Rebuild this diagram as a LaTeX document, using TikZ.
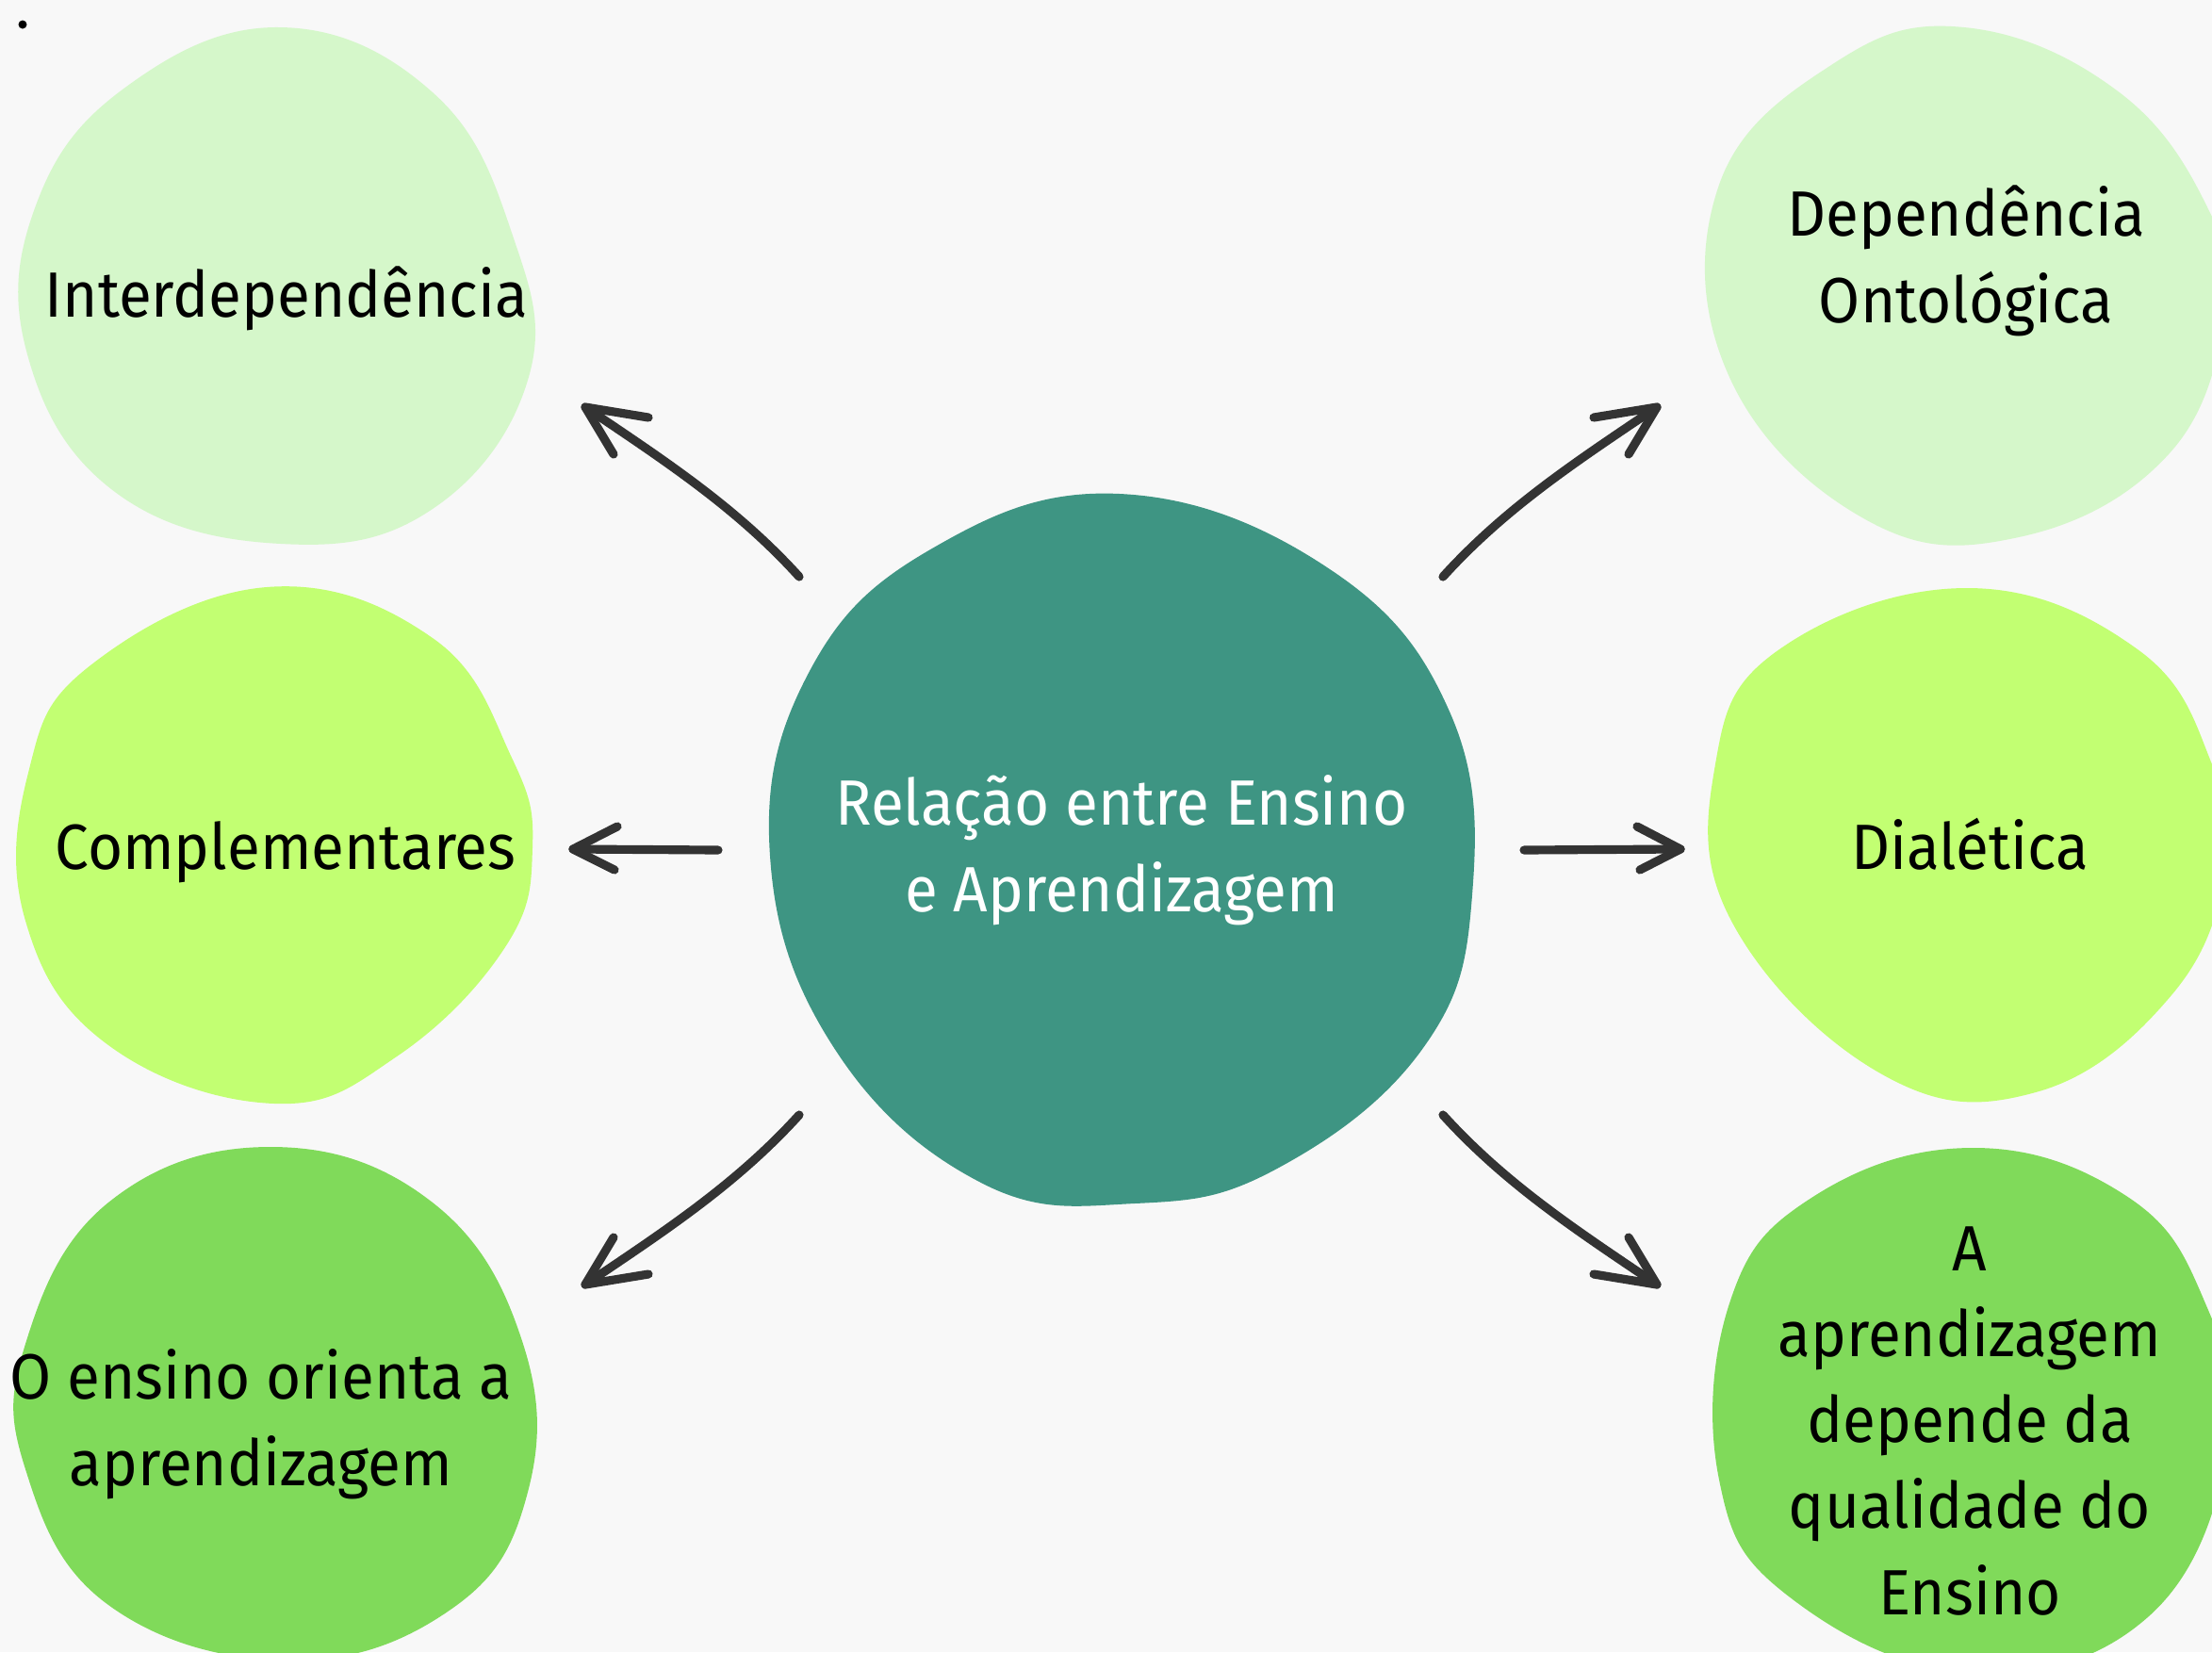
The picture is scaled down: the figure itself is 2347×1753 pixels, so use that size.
\documentclass[tikz,border=0pt]{standalone}
\usepackage{fontspec}
\setmainfont{Fira Sans}[FakeStretch=0.94]
\definecolor{bgc}{HTML}{F8F8F8}
\definecolor{lightg}{HTML}{D5F7CA}
\definecolor{limeg}{HTML}{C2FF72}
\definecolor{midg}{HTML}{80DA5A}
\definecolor{teal}{HTML}{3E9583}
\definecolor{ink}{HTML}{333333}
\begin{document}
\begin{tikzpicture}[x=0.01cm, y=-0.01cm,
  lbl/.style={font=\fontsize{19.3}{25.9}\selectfont, align=center, anchor=base, inner sep=0pt, text=black},
  blob/.style={smooth cycle, tension=0.7},
  conn/.style={draw=ink, line width=2.6pt, line cap=round, line join=round}]
\fill[bgc] (0,0) rectangle (2347,1753);
\useasboundingbox (0,0) rectangle (2347,1753);
% small dot
\fill[black] (24,26) circle (4.5);
% top-left blob
\fill[lightg] plot[blob] coordinates {(298,29) (459,98) (543,247) (561,400) (459,540) (298,577) (122,522) (29,376) (38,218) (134,92)};
% middle-left blob
\fill[limeg] plot[blob] coordinates {(283,623) (459,677) (543,804) (565,900) (536,1005) (421,1121) (291,1171) (115,1109) (27,977) (30,820) (96,706)};
% bottom-left blob
\fill[midg] plot[blob] coordinates {(287,1217) (459,1276) (555,1426) (559,1587) (478,1708) (306,1762) (115,1703) (27,1559) (27,1426) (115,1276)};
% top-right blob
\fill[lightg] plot[blob] coordinates {(2084,29) (2250,99) (2347,230) (2362,330) (2301,482) (2142,570) (1979,551) (1834,398) (1823,199) (1943,69)};
% middle-right blob
\fill[limeg] plot[blob] coordinates {(2087,624) (2268,689) (2347,811) (2362,920) (2304,1056) (2160,1159) (1997,1140) (1838,979) (1820,811) (1888,689)};
% bottom-right blob
\fill[midg] plot[blob] coordinates {(2090,1218) (2253,1267) (2337,1376) (2365,1530) (2280,1715) (2090,1775) (1898,1694) (1824,1570) (1835,1383) (1922,1271)};
% central blob
\fill[teal] plot[blob] coordinates {(1188,524) (1408,602) (1538,755) (1562,950) (1510,1112) (1355,1240) (1204,1277) (1041,1255) (885,1112) (817,908) (858,714) (989,582)};

% labels (anchor = baseline of last line)
\node[lbl] (interd) at (304,336) {Interdependência};
\node[lbl] (compl) at (303,922) {Complementares};
\node[lbl] (orienta) at (277,1576) {O ensino orienta a\\aprendizagem};
\node[lbl] (onto) at (2086,342) {Dependência\\Ontológica};
\node[lbl] (dial) at (2090,922) {Dialética};
\node[lbl] (quali) at (2090,1713) {A\\aprendizagem\\depende da\\qualidade do\\Ensino};
\node[lbl, text=white] (rel) at (1190,967) {Relação entre Ensino\\e Aprendizagem};

% connector end points
\coordinate (t1) at (848,612);  \coordinate (e1) at (621,432);
\coordinate (t2) at (1531,612); \coordinate (e2) at (1758,432);
\coordinate (t3) at (762,902);  \coordinate (e3) at (608,901);
\coordinate (t4) at (1617,902); \coordinate (e4) at (1783,901);
\coordinate (t5) at (848,1183); \coordinate (e5) at (621,1363);
\coordinate (t6) at (1531,1183);\coordinate (e6) at (1758,1363);

% arrows
\draw[conn] (t1) .. controls (781,538) and (704,488) .. (e1);
\draw[conn] (e1) ++(67,11) -- (e1) -- ++(30,50);
\draw[conn] (t2) .. controls (1598,538) and (1675,488) .. (e2);
\draw[conn] (e2) ++(-67,11) -- (e2) -- ++(-30,50);
\draw[conn] (t3) -- (e3);
\draw[conn] (e3) ++(47,-24) -- (e3) -- ++(44,22);
\draw[conn] (t4) -- (e4);
\draw[conn] (e4) ++(-46,-24) -- (e4) -- ++(-43,22);
\draw[conn] (t5) .. controls (781,1257) and (704,1307) .. (e5);
\draw[conn] (e5) ++(67,-11) -- (e5) -- ++(30,-50);
\draw[conn] (t6) .. controls (1598,1257) and (1675,1307) .. (e6);
\draw[conn] (e6) ++(-67,-11) -- (e6) -- ++(-30,-50);
\end{tikzpicture}
\end{document}
